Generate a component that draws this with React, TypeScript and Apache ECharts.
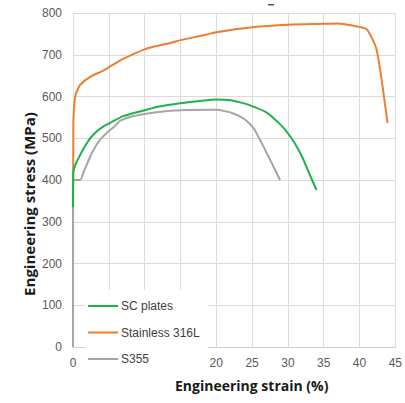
import React, { useEffect, useRef } from "react";
import * as echarts from "echarts";

const xTicks = [0, 5, 10, 15, 20, 25, 30, 35, 40, 45];
const yTicks = [0, 100, 200, 300, 400, 500, 600, 700, 800];

const seriesNames = ["SC plates", "Stainless 316L", "S355"];
const seriesColors = ["#1db34a", "#ed7d31", "#a5a5a5"];

const scPlates: [number, number][] = [
  [0, 335], [0.05, 420], [0.5, 443], [1, 460], [1.5, 476], [2, 490], [2.4, 500], [3.3, 516],
  [4.2, 528], [5.2, 537], [7, 553], [10, 567], [12, 576], [15, 584], [18, 590],
  [20, 593], [22, 591], [24, 583], [25, 577], [27, 562], [29, 532], [30, 512],
  [31, 487], [32, 455], [33, 415], [34, 376],
];

const stainless316L: [number, number][] = [
  [0, 85], [0.05, 540], [0.3, 600], [0.6, 615], [1, 628], [2.5, 648], [4, 660],
  [5, 670], [7, 690], [10, 713], [12, 722], [14, 730], [15, 735], [18, 746],
  [20, 754], [25, 766], [30, 772], [35, 774], [37, 775], [39, 770], [41, 761],
  [42.4, 711], [43.9, 537],
];

const s355: [number, number][] = [
  [0, 0], [0, 400], [1, 400], [1.5, 420], [2, 440], [2.5, 460], [3, 476],
  [3.5, 490], [4, 501], [4.6, 511], [5.2, 520], [6, 532], [6.6, 542], [8, 551],
  [10, 558], [12, 563], [15, 567], [20, 568], [22.3, 560], [24, 545],
  [25.3, 522], [28.9, 400],
];

const seriesData = [scPlates, stainless316L, s355];

const legendIcon = "path://M0,0 L0,0 M0,6 L30,6 L30,8 L0,8 Z M30,14 L30,14";

export default function App() {
  const ref = useRef<HTMLDivElement>(null);
  useEffect(() => {
    if (!ref.current) return;
    const chart = echarts.init(ref.current, null, { renderer: "svg" });
    const labelFont = "'Liberation Sans', 'Open Sans', sans-serif";
    chart.setOption({
      animation: false,
      backgroundColor: "#ffffff",
      grid: { left: 73, right: 9, top: 13, bottom: 56, containLabel: false },
      xAxis: {
        type: "value",
        min: xTicks[0],
        max: xTicks[xTicks.length - 1],
        interval: 5,
        axisLine: { show: true, lineStyle: { color: "#d0d0d0", width: 1 } },
        axisTick: { show: false },
        splitLine: { show: true, lineStyle: { color: "#dcdcdc", width: 1 } },
        axisLabel: { color: "#595959", fontSize: 12, fontFamily: labelFont, margin: 10 },
      },
      yAxis: {
        type: "value",
        min: yTicks[0],
        max: yTicks[yTicks.length - 1],
        interval: 100,
        axisLine: { show: false },
        axisTick: { show: false },
        splitLine: { show: true, lineStyle: { color: "#dcdcdc", width: 1 } },
        axisLabel: { color: "#595959", fontSize: 12, fontFamily: labelFont, margin: 11 },
      },
      legend: {
        orient: "vertical",
        left: 85,
        top: 290,
        data: seriesNames.map((name) => ({ name, icon: legendIcon })),
        itemWidth: 30,
        itemHeight: 14,
        itemGap: 12.5,
        backgroundColor: "#ffffff",
        padding: [9, 8, 10, 3],
        textStyle: { color: "#404040", fontSize: 12, fontFamily: labelFont, padding: [0, 0, 0, -2] },
        z: 10,
      },
      series: seriesNames.map((name, i) => ({
        name,
        type: "line",
        data: seriesData[i],
        symbol: "none",
        smooth: 0.2,
        lineStyle: { color: seriesColors[i], width: 2 },
        itemStyle: { color: seriesColors[i], borderWidth: 0 },
        z: i === 2 ? 3 : i === 0 ? 4 : 2,
      })),
      graphic: [
        {
          type: "text",
          left: 175,
          top: 378,
          style: {
            text: "Engineering strain (%)",
            font: "bold 14px 'Open Sans', sans-serif",
            fill: "#1a1a1a",
          },
        },
        {
          type: "text",
          x: 29,
          y: 204,
          rotation: Math.PI / 2,
          style: {
            text: "Engineering stress (MPa)",
            font: "bold 15px 'Open Sans', sans-serif",
            fill: "#1a1a1a",
            align: "center",
            verticalAlign: "middle",
          },
        },
        {
          type: "rect",
          shape: { x: 268, y: 4, width: 6, height: 1.5 },
          style: { fill: "#555555" },
        },
      ],
    });
    return () => chart.dispose();
  }, []);
  return <div ref={ref} style={{ width: 405, height: 403, position: "absolute", left: 0, top: 0 }} />;
}
